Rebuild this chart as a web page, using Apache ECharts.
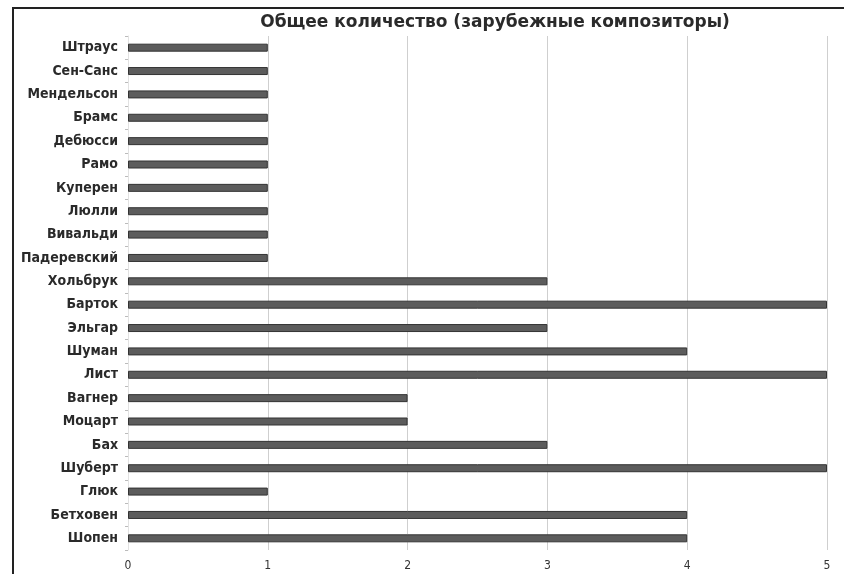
<!DOCTYPE html>
<html>
<head>
<meta charset="utf-8">
<script src="https://cdn.jsdelivr.net/npm/echarts@6/dist/echarts.min.js"></script>
<style>
  html, body { margin: 0; padding: 0; background: #fff; }
</style>
</head>
<body>
<div id="bar" style="width:844px;height:574px;"></div>
<script>
  // composers, bottom to top as on the axis
  var composers = ['Шопен', 'Бетховен', 'Глюк', 'Шуберт', 'Бах', 'Моцарт', 'Вагнер', 'Лист',
    'Шуман', 'Эльгар', 'Барток', 'Хольбрук', 'Падеревский', 'Вивальди', 'Люлли', 'Куперен',
    'Рамо', 'Дебюсси', 'Брамс', 'Мендельсон', 'Сен-Санс', 'Штраус'];
  var counts = [4, 4, 1, 5, 3, 2, 2, 5, 4, 3, 5, 3, 1, 1, 1, 1, 1, 1, 1, 1, 1, 1];
  var titleText = 'Общее количество (зарубежные композиторы)';

  var chart = echarts.init(document.getElementById('bar'));
  chart.setOption({
    animation: false,
    backgroundColor: '#fff',
    title: {
      text: titleText,
      left: 490,
      top: 9,
      textAlign: 'center',
      textStyle: {
        fontFamily: 'DejaVu Sans',
        fontWeight: 'bold',
        fontSize: 17,
        color: '#2a2a2a'
      }
    },
    graphic: [{
      type: 'polyline',
      shape: { points: [[13, 574], [13, 8], [844, 8]] },
      style: { stroke: '#222', lineWidth: 2, fill: null }
    }],
    grid: { left: 128, right: 17, top: 36, bottom: 24 },
    xAxis: {
      type: 'value',
      min: 0,
      max: 5,
      interval: 1,
      axisLine: { show: false },
      axisTick: { show: false },
      splitLine: { lineStyle: { color: '#cfcfcf', width: 1 } },
      axisLabel: {
        margin: 10,
        fontFamily: 'DejaVu Sans Condensed, DejaVu Sans',
        fontSize: 12,
        color: '#333'
      }
    },
    yAxis: {
      type: 'category',
      data: composers,
      axisLine: { show: true, lineStyle: { color: '#e2e2e2' } },
      axisTick: { show: true, length: 3, lineStyle: { color: '#bbb' } },
      axisLabel: {
        margin: 10,
        fontFamily: 'DejaVu Sans Condensed',
        fontWeight: 'bold',
        fontSize: 14,
        color: '#2a2a2a'
      }
    },
    series: [{
      type: 'bar',
      data: counts,
      barWidth: 8,
      itemStyle: { color: '#5c5c5c', borderColor: '#333', borderWidth: 1 }
    }]
  });
</script>
</body>
</html>
